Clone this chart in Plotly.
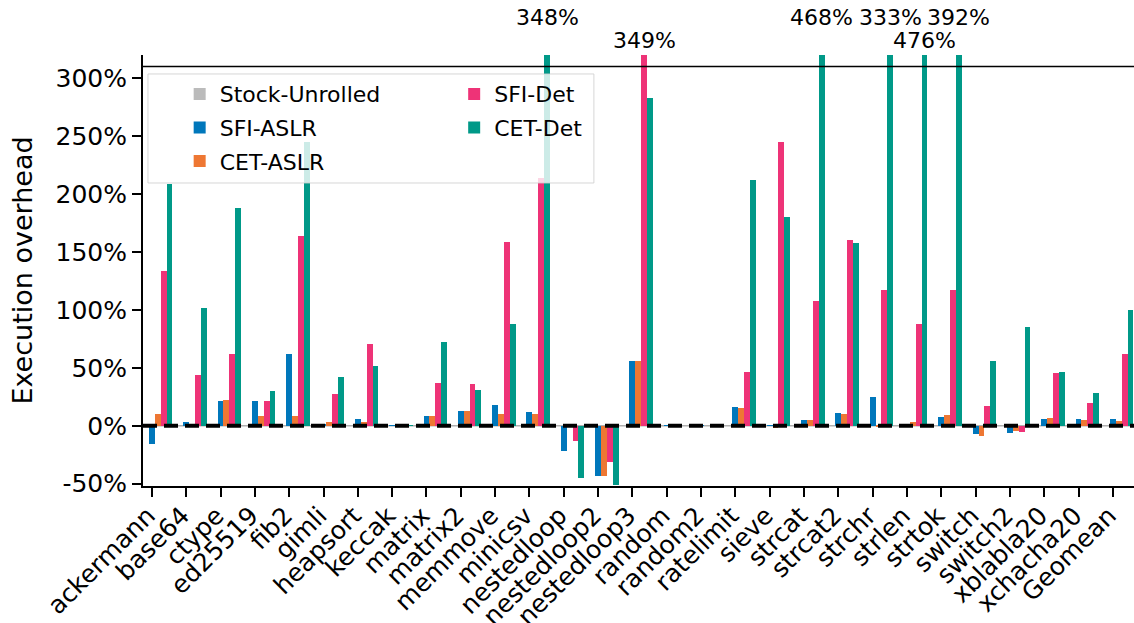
import plotly.graph_objects as go

categories = ["ackermann", "base64", "ctype", "ed25519", "fib2", "gimli", "heapsort",
              "keccak", "matrix", "matrix2", "memmove", "minicsv", "nestedloop",
              "nestedloop2", "nestedloop3", "random", "random2", "ratelimit", "sieve",
              "strcat", "strcat2", "strchr", "strlen", "strtok", "switch", "switch2",
              "xblabla20", "xchacha20", "Geomean"]

stock_unrolled = [0, 0, 0, 0, 0, 0, 0, 0, 0, 0, 0, 0, 0, 0, 0, 0, 0, 0, 0, 0,
                  0, 0, 0, 0, 0, 0, 0, 0, 0]
sfi_aslr = [-16.0, 2.9, 21.4, 21.4, 62.0, 1.5, 5.8, 0.5, 8.4, 12.7, 17.9, 11.8, -21.9,
            -43.5, 56.0, 0.3, 0.3, 16.2, 0.5, 5.0, 11.0, 24.8, 1.5, 7.5, -7.2, -6.3,
            5.8, 5.8, 5.8]
cet_aslr = [10.1, 1.5, 22.2, 8.4, 8.4, 3.0, 3.0, 0.0, 8.4, 12.7, 10.1, 10.1, 0.0,
            -43.5, 56.0, 0.0, 0.0, 15.3, -1.7, 5.0, 10.1, -0.5, 3.0, 9.2, -8.9, -4.6,
            6.7, 5.0, 4.2]
sfi_det = [133.8, 43.9, 62.0, 21.4, 164.0, 27.4, 70.7, 0.3, 37.0, 36.0, 158.9, 214.0,
           -13.2, -31.4, 349.0, 0.0, -0.5, 46.5, 245.0, 107.8, 160.6, 117.4, 88.0,
           117.4, 17.0, -5.4, 45.6, 19.6, 62.0]
cet_det = [209.0, 101.8, 188.0, 30.0, 245.0, 42.0, 51.7, 0.3, 72.4, 30.9, 88.0, 348.0,
           -45.2, -51.3, 282.5, 0.0, 0.0, 211.7, 180.4, 468.0, 158.0, 333.0, 476.0,
           392.0, 56.0, 85.4, 46.5, 28.3, 100.0]

series_names = ["Stock-Unrolled", "SFI-ASLR", "CET-ASLR", "SFI-Det", "CET-Det"]
series_values = [stock_unrolled, sfi_aslr, cet_aslr, sfi_det, cet_det]
series_colors = ["#BBBBBB", "#0077BB", "#EE7733", "#EE3377", "#009988"]
series_legend = ["legend", "legend", "legend", "legend2", "legend2"]

y_ticks = [-50, 0, 50, 100, 150, 200, 250, 300]
y_min, y_max = -52, 320
cut_line = 310
# labels of clipped bars that are lifted to a second row
raised_labels = {"minicsv", "strcat", "strchr", "strtok"}

FONT = "DejaVu Sans"
bar_w = 0.171
xs = list(range(len(categories)))

fig = go.Figure()
for j, (name, vals, color, leg) in enumerate(zip(series_names, series_values,
                                                 series_colors, series_legend)):
    fig.add_trace(go.Bar(
        x=xs, y=vals, name=name, width=bar_w, offset=(j - 1.5) * bar_w,
        marker=dict(color=color, line=dict(width=0)),
        legend=leg, legendgroup=name, showlegend=True,
    ))

annotations = []
for j, vals in enumerate(series_values):
    for i, v in enumerate(vals):
        if v > y_max:
            annotations.append(dict(
                x=i + (j - 1) * bar_w, xref="x", y=1, yref="paper",
                yanchor="bottom", xanchor="center", showarrow=False,
                text=f"{v:.0f}%", font=dict(family=FONT, size=22, color="black"),
                yshift=23 if categories[i] in raised_labels else 0,
            ))

shapes = [
    dict(type="line", xref="paper", x0=0, x1=1, yref="y", y0=0, y1=0,
         line=dict(color="#b0b0b0", width=1.5), layer="below"),
    dict(type="line", xref="paper", x0=0, x1=1, yref="y", y0=0, y1=0,
         line=dict(color="black", width=4, dash="14px,7px"), layer="above"),
    dict(type="line", xref="paper", x0=0, x1=1, yref="y", y0=cut_line, y1=cut_line,
         line=dict(color="black", width=1.5), layer="above"),
    dict(type="rect", xref="paper", yref="paper", x0=0.005, x1=0.455, y0=0.703, y1=0.956,
         fillcolor="rgba(255,255,255,0.8)", line=dict(color="rgba(204,204,204,0.8)", width=1),
         layer="above"),
]

fig.update_layout(
    width=1134, height=623,
    margin=dict(l=143, r=0, t=55, b=137),
    paper_bgcolor="white", plot_bgcolor="white",
    font=dict(family=FONT, size=25, color="black"),
    barmode="overlay", bargap=0,
    showlegend=True,
    legend=dict(x=0.037, y=0.958, xanchor="left", yanchor="top",
                bgcolor="rgba(0,0,0,0)", borderwidth=0, tracegroupgap=2,
                font=dict(family=FONT, size=22, color="black")),
    legend2=dict(x=0.314, y=0.958, xanchor="left", yanchor="top",
                 bgcolor="rgba(0,0,0,0)", borderwidth=0, tracegroupgap=2,
                 font=dict(family=FONT, size=22, color="black")),
    annotations=annotations,
    shapes=shapes,
)

fig.update_xaxes(
    range=[-1.5 * bar_w - 0.003, len(categories) - 1 + 3.6 * bar_w],
    tickmode="array", tickvals=xs, ticktext=categories, tickangle=-45,
    showline=True, linecolor="black", linewidth=2, mirror=False,
    ticks="outside", ticklen=9, tickwidth=2, tickcolor="black",
    showgrid=False, zeroline=False, automargin=False,
    tickfont=dict(family=FONT, size=25, color="black"),
)
try:
    fig.update_xaxes(ticklabelstandoff=-6, ticklabelshift=-4)
except (ValueError, TypeError):
    pass

fig.update_yaxes(
    range=[y_min, y_max],
    tickmode="array", tickvals=y_ticks, ticktext=[f"{t}%" for t in y_ticks],
    showline=True, linecolor="black", linewidth=2, mirror=False,
    ticks="outside", ticklen=9, tickwidth=2, tickcolor="black",
    showgrid=False, zeroline=False, automargin=False,
    tickfont=dict(family=FONT, size=25, color="black"),
    title=dict(text="Execution overhead", standoff=15,
               font=dict(family=FONT, size=27, color="black")),
)

# remove the default 8px page margin so the figure fills the window exactly
fig.write_html("out.html",
               config={"displayModeBar": False},
               post_script="document.body.style.margin='0px';"
                           "document.body.style.overflow='hidden';")
